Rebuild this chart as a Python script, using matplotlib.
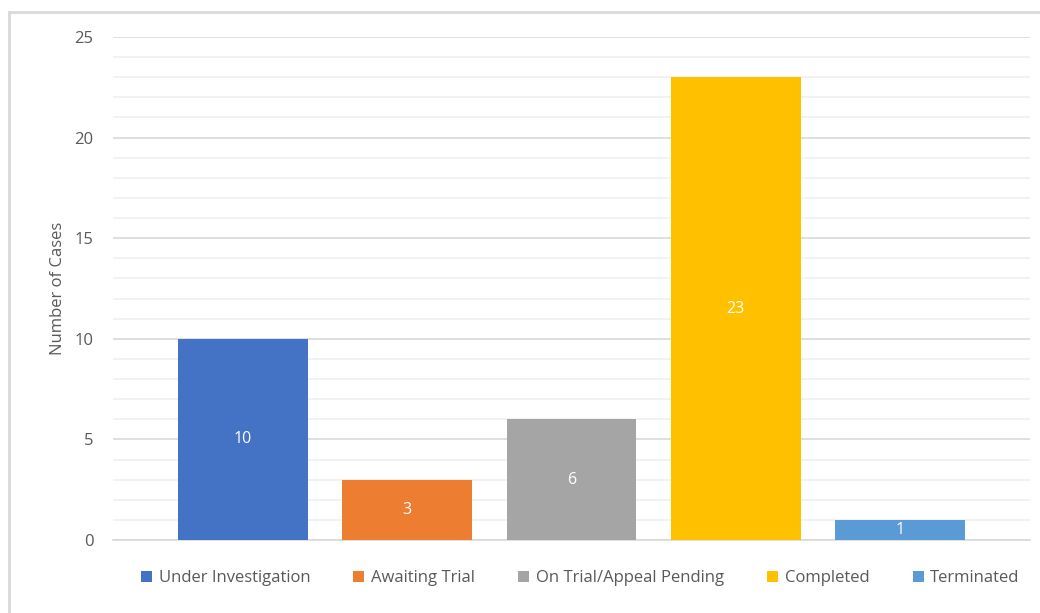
import numpy as np
import matplotlib.pyplot as plt
from matplotlib.lines import Line2D
from matplotlib.patches import Patch

categories = ["Under Investigation", "Awaiting Trial", "On Trial/Appeal Pending",
              "Completed", "Terminated"]
cases = [10, 3, 6, 23, 1]
colors = ["#4472C4", "#ED7D31", "#A5A5A5", "#FFC000", "#5B9BD5"]
y_ticks = [0, 5, 10, 15, 20, 25]

TEXT = "#595959"
plt.rcParams['font.family'] = ['Open Sans', 'DejaVu Sans']

fig = plt.figure(figsize=(10.4, 6.13), dpi=100)
ax = fig.add_axes([113 / 1040, 1 - 540 / 613, (1030 - 113) / 1040, (540 - 37) / 613])

x = np.arange(len(categories))
bars = ax.bar(x, cases, width=0.79, color=colors, zorder=3)
for b, v in zip(bars, cases):
    ax.text(b.get_x() + b.get_width() / 2, v / 2, str(v), ha="center", va="center",
            color="white", fontsize=11.5, zorder=4)

ax.set_xlim(-0.79, 4.79)
ax.set_ylim(0, 25)
ax.set_yticks(y_ticks)
ax.set_yticks(np.arange(0, 26, 1), minor=True)
ax.grid(axis="y", which="major", color="#D9D9D9", linewidth=1.2, zorder=0)
ax.grid(axis="y", which="minor", color="#F0F0F0", linewidth=1.2, zorder=0)
ax.set_xticks([])
for s in ["top", "right", "left"]:
    ax.spines[s].set_visible(False)
ax.spines["bottom"].set_color("#D9D9D9")
ax.spines["bottom"].set_linewidth(1.2)
ax.tick_params(axis="y", which="both", length=0, pad=14, labelsize=12, labelcolor=TEXT)
ax.set_ylabel("Number of Cases", fontsize=12, color=TEXT, labelpad=6)

handles = [Patch(facecolor=c, edgecolor="none") for c in colors]
fig.legend(handles, categories, loc="center", bbox_to_anchor=(0.558, 1 - 578 / 613),
           ncol=5, frameon=False, fontsize=12, labelcolor=TEXT,
           handlelength=0.65, handleheight=0.65, handletextpad=0.4, columnspacing=2.6)

# outer chart border (only top/left visible in the reference)
fig.add_artist(Line2D([9 / 1040, 9 / 1040], [0, 1 - 12 / 613], color="#D9D9D9", linewidth=2))
fig.add_artist(Line2D([9 / 1040, 1], [1 - 12 / 613, 1 - 12 / 613], color="#D9D9D9", linewidth=2))

fig.savefig("out.png", dpi=100)
